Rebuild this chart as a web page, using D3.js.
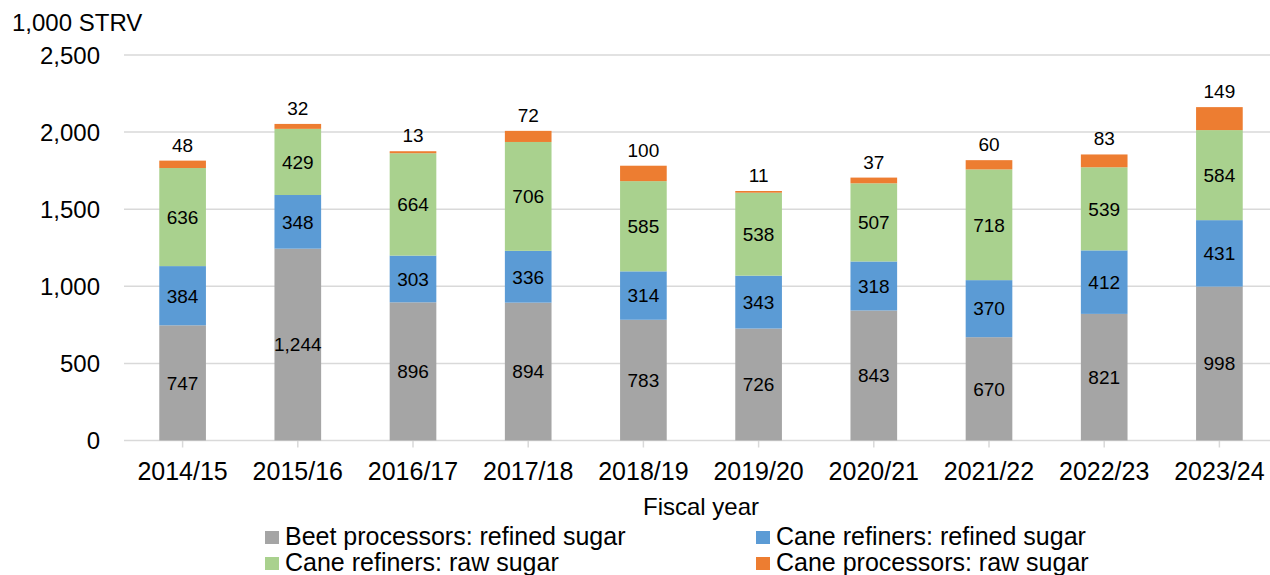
<!DOCTYPE html>
<html>
<head>
<meta charset="utf-8">
<script src="https://cdn.jsdelivr.net/npm/d3@7"></script>
<style>
  body { margin: 0; background: #fff; }
  text { font-family: "Liberation Sans", Arial, sans-serif; fill: #000; }
</style>
</head>
<body>
<div id="chart"></div>
<script>
const WIDTH = 1270;
const HEIGHT = 575;
const LEFT = 125;
const RIGHT = 1277;
const TOP = 55;
const BOTTOM = 440.5;

const years = ['2014/15', '2015/16', '2016/17', '2017/18', '2018/19', '2019/20', '2020/21', '2021/22', '2022/23', '2023/24'];
const beetRefined = [747, 1244, 896, 894, 783, 726, 843, 670, 821, 998];
const caneRefined = [384, 348, 303, 336, 314, 343, 318, 370, 412, 431];
const caneRaw = [636, 429, 664, 706, 585, 538, 507, 718, 539, 584];
const processorsRaw = [48, 32, 13, 72, 100, 11, 37, 60, 83, 149];
const yTicks = [0, 500, 1000, 1500, 2000, 2500];

const seriesNames = ['Beet processors: refined sugar', 'Cane refiners: refined sugar', 'Cane refiners: raw sugar', 'Cane processors: raw sugar'];
const seriesColors = ['#a5a5a5', '#5b9bd5', '#a9d18e', '#ed7d31'];

let svg = d3.select('#chart').append('svg')
  .attr('width', WIDTH)
  .attr('height', HEIGHT);

let rows = years.map((year, i) => ({
  year: year,
  s0: beetRefined[i],
  s1: caneRefined[i],
  s2: caneRaw[i],
  s3: processorsRaw[i],
}));

let stacked = d3.stack().keys(['s0', 's1', 's2', 's3'])(rows);

let x = d3.scaleBand()
  .domain(years)
  .range([LEFT, RIGHT])
  .paddingInner(0.595)
  .paddingOuter(0.2975);

let y = d3.scaleLinear()
  .domain([0, 2500])
  .range([BOTTOM, TOP]);

// grid + y labels
svg.append('g')
  .selectAll('line')
  .data(yTicks)
  .enter()
  .append('line')
  .attr('x1', LEFT - 1)
  .attr('x2', WIDTH)
  .attr('y1', (d) => y(d))
  .attr('y2', (d) => y(d))
  .attr('stroke', '#d9d9d9')
  .attr('stroke-width', 1.5);

svg.append('g')
  .selectAll('text')
  .data(yTicks)
  .enter()
  .append('text')
  .attr('x', 100)
  .attr('y', (d) => y(d))
  .attr('dy', '0.36em')
  .attr('text-anchor', 'end')
  .style('font-size', '24px')
  .text(d3.format(','));

// x ticks
svg.append('g')
  .selectAll('line')
  .data(years)
  .enter()
  .append('line')
  .attr('x1', (d) => x(d) + x.bandwidth() / 2)
  .attr('x2', (d) => x(d) + x.bandwidth() / 2)
  .attr('y1', BOTTOM)
  .attr('y2', BOTTOM + 7)
  .attr('stroke', '#d9d9d9')
  .attr('stroke-width', 1.5);

svg.append('g')
  .selectAll('text')
  .data(years)
  .enter()
  .append('text')
  .attr('x', (d) => x(d) + x.bandwidth() / 2)
  .attr('y', 480)
  .attr('text-anchor', 'middle')
  .style('font-size', '25px')
  .text((d) => d);

// bars
let layers = svg.append('g')
  .selectAll('g')
  .data(stacked)
  .enter()
  .append('g')
  .attr('fill', (d, i) => seriesColors[i]);

layers.selectAll('rect')
  .data((d) => d)
  .enter()
  .append('rect')
  .attr('x', (d) => x(d.data.year))
  .attr('y', (d) => y(d[1]))
  .attr('width', x.bandwidth())
  .attr('height', (d) => y(d[0]) - y(d[1]));

// labels: inside for first three series, above for the last
stacked.forEach((layer, i) => {
  svg.append('g')
    .selectAll('text')
    .data(layer)
    .enter()
    .append('text')
    .attr('x', (d) => x(d.data.year) + x.bandwidth() / 2)
    .attr('y', (d) => i < 3 ? (y(d[0]) + y(d[1])) / 2 : y(d[1]) - 9)
    .attr('dy', i < 3 ? '0.36em' : 0)
    .attr('text-anchor', 'middle')
    .style('font-size', '19px')
    .text((d) => d3.format(',')(d[1] - d[0]));
});

// titles
svg.append('text')
  .attr('x', 12)
  .attr('y', 31)
  .style('font-size', '24px')
  .text('1,000 STRV');

svg.append('text')
  .attr('x', (LEFT + RIGHT) / 2)
  .attr('y', 515)
  .attr('text-anchor', 'middle')
  .style('font-size', '24px')
  .text('Fiscal year');

// legend
let legendPos = [[265, 545], [756, 545], [265, 571], [756, 571]];
let legend = svg.append('g')
  .selectAll('g')
  .data(seriesNames)
  .enter()
  .append('g')
  .attr('transform', (d, i) => `translate(${legendPos[i][0]}, ${legendPos[i][1]})`);

legend.append('rect')
  .attr('x', 0)
  .attr('y', -14)
  .attr('width', 14)
  .attr('height', 13)
  .attr('fill', (d, i) => seriesColors[i]);

legend.append('text')
  .attr('x', 20)
  .attr('y', 0)
  .style('font-size', '25px')
  .text((d) => d);
</script>
</body>
</html>
